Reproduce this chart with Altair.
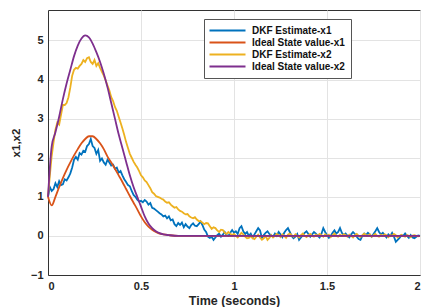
import altair as alt
import pandas as pd

# DKF estimates, sampled every 0.01 s from 0 to 2 s
t_est = [round(i * 0.01, 2) for i in range(201)]
dkf_x1 = [
    1.00, 1.25, 1.15, 1.20, 1.35, 1.25, 1.40, 1.30, 1.32, 1.45,
    1.42, 1.50, 1.60, 1.75, 1.95, 2.02, 1.95, 2.12, 2.08, 2.18,
    2.15, 2.30, 2.35, 2.48, 2.30, 2.25, 2.10, 2.20, 1.92, 1.98,
    1.88, 1.82, 1.95, 1.88, 1.80, 1.82, 1.72, 1.75, 1.62, 1.66,
    1.55, 1.45, 1.38, 1.30, 1.27, 1.15, 1.05, 1.00, 0.93, 0.88,
    0.90, 0.86, 0.92, 0.88, 0.80, 0.84, 0.72, 0.70, 0.66, 0.62,
    0.58, 0.55, 0.50, 0.52, 0.45, 0.50, 0.40, 0.42, 0.30, 0.25,
    0.33, 0.28, 0.34, 0.22, 0.30, 0.24, 0.20, 0.28, 0.32, 0.26,
    0.25, 0.30, 0.37, 0.28, 0.16, 0.10, -0.02, -0.05, -0.02, -0.10,
    -0.04, 0.02, 0.06, -0.02, 0.03, 0.10, 0.02, 0.00, 0.08, 0.15,
    0.08, 0.12, 0.05, 0.20, 0.25, 0.12, 0.05, 0.10, 0.00, 0.06,
    -0.04, 0.04, 0.12, 0.20, 0.14, -0.05, 0.02, 0.08, 0.12, 0.05,
    0.02, -0.02, 0.06, 0.00, 0.10, 0.04, -0.03, 0.08, 0.15, 0.20,
    0.10, 0.00, -0.06, -0.02, 0.05, -0.10, -0.04, 0.02, 0.08, 0.12,
    0.05, -0.02, 0.04, 0.10, 0.06, 0.00, -0.04, 0.05, 0.20, 0.10,
    0.02, -0.05, 0.00, 0.08, 0.14, 0.06, 0.10, 0.20, 0.08, 0.02,
    0.06, 0.00, -0.04, 0.04, 0.10, 0.05, -0.02, -0.08, -0.10, 0.00,
    0.06, 0.02, 0.08, 0.04, -0.02, 0.05, 0.12, 0.20, 0.10, 0.04,
    0.08, 0.02, -0.04, 0.04, 0.00, 0.08, -0.02, -0.15, -0.10, -0.05,
    0.02, 0.00, 0.06, 0.00, -0.05, 0.02, -0.04, -0.06, -0.02, 0.01,
    0.00,
]
dkf_x2 = [
    1.00, 1.55, 2.05, 2.40, 2.72, 2.90, 2.85, 3.10, 3.35, 3.35,
    3.40, 3.55, 3.80, 4.10, 4.25, 4.30, 4.28, 4.35, 4.40, 4.50,
    4.45, 4.55, 4.57, 4.45, 4.40, 4.50, 4.35, 4.42, 4.30, 4.20,
    4.10, 3.98, 3.85, 3.72, 3.55, 3.45, 3.30, 3.20, 3.05, 2.90,
    2.75, 2.58, 2.40, 2.25, 2.10, 2.00, 1.90, 1.82, 1.75, 1.66,
    1.55, 1.50, 1.42, 1.38, 1.30, 1.22, 1.12, 1.08, 1.02, 1.00,
    0.98, 0.95, 0.93, 0.88, 0.85, 0.86, 0.80, 0.76, 0.72, 0.74,
    0.68, 0.64, 0.62, 0.58, 0.55, 0.56, 0.50, 0.47, 0.45, 0.48,
    0.42, 0.38, 0.38, 0.34, 0.30, 0.33, 0.32, 0.25, 0.18, 0.22,
    0.20, 0.14, 0.10, 0.16, 0.15, 0.08, 0.05, 0.10, 0.06, 0.02,
    0.05, 0.00, -0.04, 0.02, 0.08, 0.04, -0.02, -0.06, -0.05, 0.00,
    -0.06, -0.08, -0.02, 0.03, -0.04, -0.10, -0.06, 0.00, -0.10, -0.05,
    0.02, -0.04, 0.00, 0.05, 0.02, -0.03, 0.04, 0.00, -0.05, 0.03,
    0.06, 0.02, -0.02, 0.04, 0.00, -0.04, 0.02, 0.06, 0.00, -0.03,
    0.02, 0.05, 0.00, -0.02, 0.03, 0.00, 0.05, 0.02, -0.02, 0.04,
    0.00, 0.03, -0.03, 0.02, 0.06, 0.00, -0.02, 0.03, 0.00, 0.04,
    0.02, -0.02, 0.03, 0.00, -0.04, 0.02, 0.05, 0.00, -0.03, 0.02,
    0.06, 0.02, 0.00, 0.04, -0.02, 0.02, 0.05, 0.00, -0.02, 0.03,
    0.00, 0.04, 0.02, -0.03, 0.02, 0.00, 0.05, 0.02, -0.04, 0.00,
    0.03, 0.00, -0.02, 0.02, 0.00, -0.03, 0.01, 0.02, 0.00, -0.01,
    0.00,
]

# Ideal state values (smooth curves)
t_id = [0.0, 0.02, 0.04, 0.06, 0.08, 0.10, 0.12, 0.14, 0.16, 0.18, 0.20,
        0.22, 0.24, 0.26, 0.28, 0.30, 0.32, 0.34, 0.36, 0.38, 0.40, 0.42,
        0.44, 0.46, 0.48, 0.50, 0.52, 0.54, 0.56, 0.58, 0.60, 0.62, 0.65,
        0.70, 1.00, 1.50, 2.00]
ideal_x1 = [1.00, 0.78, 1.00, 1.25, 1.48, 1.69, 1.88, 2.06, 2.22, 2.37, 2.48,
            2.55, 2.55, 2.48, 2.37, 2.22, 2.03, 1.88, 1.72, 1.55, 1.38, 1.20,
            1.02, 0.85, 0.68, 0.50, 0.35, 0.24, 0.16, 0.10, 0.06, 0.04, 0.02,
            0.00, 0.00, 0.00, 0.00]
ideal_x2 = [1.00, 2.30, 2.65, 3.05, 3.50, 3.90, 4.25, 4.60, 4.87, 5.05, 5.13,
            5.08, 4.92, 4.70, 4.45, 4.15, 3.80, 3.40, 3.00, 2.60, 2.25, 1.90,
            1.55, 1.25, 1.00, 0.75, 0.50, 0.32, 0.20, 0.12, 0.07, 0.04, 0.02,
            0.00, 0.00, 0.00, 0.00]

names = ["DKF Estimate-x1", "Ideal State value-x1", "DKF Estimate-x2", "Ideal State value-x2"]
colors = ["#0072BD", "#D95319", "#EDB120", "#7E2F8E"]

est = pd.concat([
    pd.DataFrame({"t": t_est, "v": dkf_x1, "s": names[0], "o": 0}),
    pd.DataFrame({"t": t_est, "v": dkf_x2, "s": names[2], "o": 2}),
])
ideal = pd.concat([
    pd.DataFrame({"t": t_id, "v": ideal_x1, "s": names[1], "o": 1}),
    pd.DataFrame({"t": t_id, "v": ideal_x2, "s": names[3], "o": 3}),
])

FONT = "Liberation Sans"
x_enc = alt.X("t:Q", scale=alt.Scale(domain=[0, 2], nice=False),
              axis=alt.Axis(title="Time (seconds)", values=[0, 0.5, 1, 1.5, 2],
                            format="~g", titlePadding=3, titleFontSize=12.5))
y_enc = alt.Y("v:Q", scale=alt.Scale(domain=[-1, 5.78], nice=False),
              axis=alt.Axis(title="x1,x2", values=[-1, 0, 1, 2, 3, 4, 5],
                            titlePadding=9, titleFontSize=11.5))
color_enc = alt.Color("s:N", scale=alt.Scale(domain=names, range=colors),
                      legend=alt.Legend(title=None, orient="none", legendX=156, legendY=9,
                                        symbolType="M-4,0H4", symbolSize=81,
                                        symbolStrokeWidth=2, symbolOffset=12,
                                        labelOffset=19, padding=6, rowPadding=1,
                                        fillColor="white", strokeColor="#555"))

l1 = alt.Chart(est).mark_line(strokeWidth=1.8).encode(
    x=x_enc, y=y_enc, color=color_enc, detail="o:N")
l2 = alt.Chart(ideal).mark_line(strokeWidth=1.8, interpolate="monotone").encode(
    x=x_enc, y=y_enc, color=color_enc, detail="o:N")

chart = (l1 + l2).properties(
    width=372, height=265, autosize="none",
    padding={"left": 40, "top": 2, "right": 1, "bottom": 32},
    background="white",
).configure_view(stroke="#333", strokeWidth=1).configure_axis(
    labelFont=FONT, titleFont=FONT, labelFontWeight="bold", titleFontWeight="bold",
    labelFontSize=11, labelColor="#262626", titleColor="#262626",
    gridColor="#e3e3e3", domainColor="#333", tickSize=0, labelPadding=5,
).configure_legend(
    labelFont=FONT, labelFontWeight="bold", labelFontSize=10, labelColor="#111",
)

chart.save("out.html", embed_options={"renderer": "svg", "actions": False})
